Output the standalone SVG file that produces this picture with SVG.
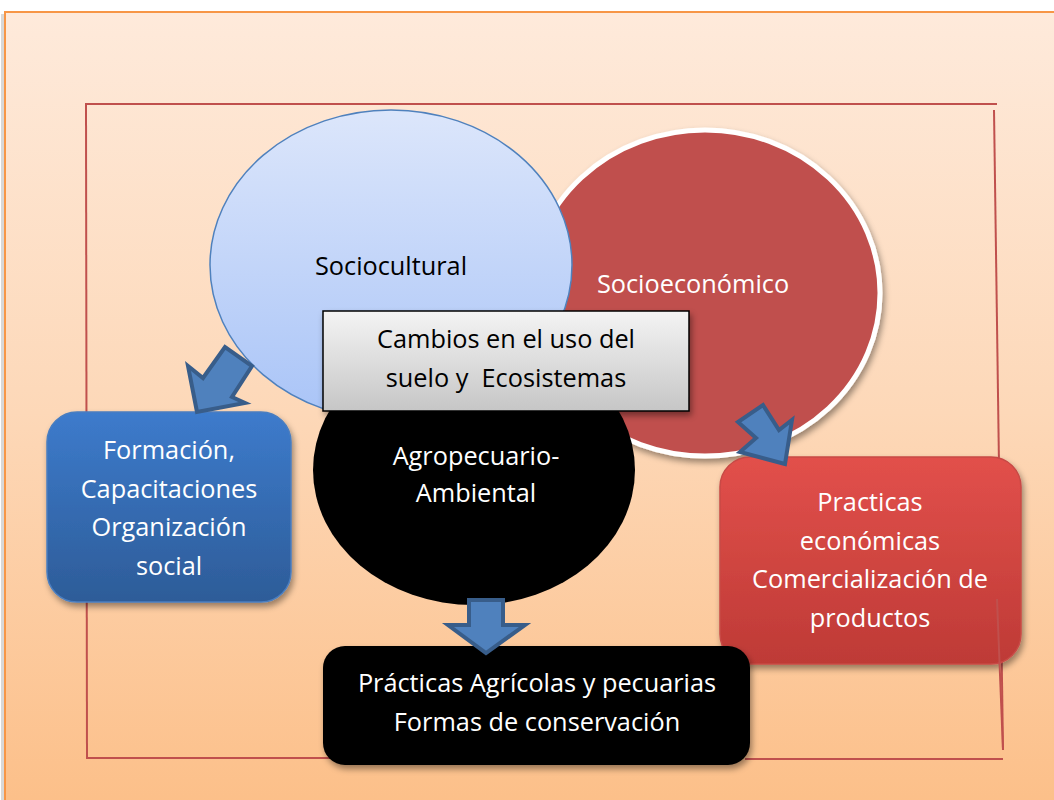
<svg xmlns="http://www.w3.org/2000/svg" width="1054" height="800" viewBox="0 0 1054 800">
<defs>
<linearGradient id="bg" x1="0" y1="0" x2="0" y2="1"><stop offset="0" stop-color="#FEEADB"/><stop offset="0.5" stop-color="#FDD8B8"/><stop offset="1" stop-color="#FCBF88"/></linearGradient>
<linearGradient id="gBlueEl" x1="0" y1="0" x2="0" y2="1"><stop offset="0" stop-color="#DCE6FB"/><stop offset="1" stop-color="#A9C4F7"/></linearGradient>
<linearGradient id="gGray" x1="0" y1="0" x2="0" y2="1"><stop offset="0" stop-color="#F4F4F4"/><stop offset="1" stop-color="#C6C6C6"/></linearGradient>
<linearGradient id="gBlue" x1="0" y1="0" x2="0" y2="1"><stop offset="0" stop-color="#3D7BCC"/><stop offset="1" stop-color="#2D5C98"/></linearGradient>
<linearGradient id="gRed" x1="0" y1="0" x2="0" y2="1"><stop offset="0" stop-color="#E2504B"/><stop offset="1" stop-color="#BE3A36"/></linearGradient>
<filter id="sh" x="-10%" y="-10%" width="130%" height="130%"><feDropShadow dx="2" dy="4" stdDeviation="3" flood-color="#000" flood-opacity="0.4"/></filter>
<style>
.t{font-family:"Open Sans","Liberation Sans",sans-serif;font-size:25.3px;text-anchor:middle;white-space:pre}
.w{fill:#FFFFFF}
.k{fill:#000000}
.arrow{fill:#4F81BD;stroke:#385D8A;stroke-width:4;stroke-linejoin:miter}
.frame{stroke:#C0504D;stroke-width:2;fill:none}
</style>
</defs>
<rect x="0" y="0" width="1054" height="800" fill="#FFFFFF"/>
<rect x="1" y="14" width="6" height="800" fill="#D8D8D8"/>
<rect id="background" x="5" y="12" width="1060" height="800" fill="url(#bg)" stroke="#F79646" stroke-width="2"/>
<g id="frame-back">
<line class="frame" x1="85" y1="104" x2="997" y2="104"/>
<line class="frame" x1="86" y1="104" x2="87" y2="758"/>
<line class="frame" x1="86" y1="758" x2="334" y2="758"/>
<line class="frame" x1="994" y1="110" x2="1003" y2="750"/>
<line class="frame" x1="745" y1="759" x2="1003" y2="759"/>
</g>
<g id="socioeconomico">
<ellipse cx="705" cy="293" rx="175" ry="163" fill="#C0504D" stroke="#FFFFFF" stroke-width="5" filter="url(#sh)"/>
<text class="t w" x="693" y="293">Socioeconómico</text>
</g>
<g id="sociocultural">
<ellipse cx="391" cy="265" rx="181" ry="155" fill="url(#gBlueEl)" stroke="#4F81BD" stroke-width="1.5"/>
<text class="t k" x="391" y="275">Sociocultural</text>
</g>
<g id="agropecuario">
<ellipse cx="474" cy="470" rx="161" ry="135" fill="#000000"/>
<text class="t w" x="476" y="465">Agropecuario-</text>
<text class="t w" x="476" y="502">Ambiental</text>
</g>
<g id="cambios">
<rect x="323" y="311" width="366" height="100" fill="url(#gGray)" stroke="#000" stroke-width="1.5" filter="url(#sh)"/>
<text class="t k" x="506" y="348">Cambios en el uso del</text>
<text class="t k" x="506" y="387" xml:space="preserve">suelo y  Ecosistemas</text>
</g>
<g id="formacion">
<rect x="47" y="412" width="244" height="190" rx="30" fill="url(#gBlue)" stroke="#4A7EC0" stroke-width="1.5" filter="url(#sh)"/>
<text class="t w" x="169" y="459">Formación,</text>
<text class="t w" x="169" y="498">Capacitaciones</text>
<text class="t w" x="169" y="536">Organización</text>
<text class="t w" x="169" y="575">social</text>
</g>
<g id="practicas-economicas">
<rect x="720" y="457" width="301" height="207" rx="30" fill="url(#gRed)" stroke="#C84A46" stroke-width="1.5" filter="url(#sh)"/>
<text class="t w" x="870" y="511">Practicas</text>
<text class="t w" x="870" y="550">económicas</text>
<text class="t w" x="870" y="588">Comercialización de</text>
<text class="t w" x="870" y="627">productos</text>
</g>
<g id="practicas-agricolas">
<rect x="323" y="646" width="427" height="119" rx="22" fill="#000000" filter="url(#sh)"/>
<text class="t w" x="537" y="692">Prácticas Agrícolas y pecuarias</text>
<text class="t w" x="537" y="731">Formas de conservación</text>
</g>
<g id="connectors">
<line class="frame" x1="997" y1="599" x2="1003" y2="750" stroke-width="1.5"/>
<polygon class="arrow" points="197,412 188,366 203,378 225,347 252,366 232,397 245,403"/>
<polygon class="arrow" points="785,464 740,452 756,438 738,422 763,405 779,430 792,420"/>
<polygon class="arrow" points="469,600 503,600 503,625 525,625 486,653 448,625 469,625"/>
</g>
</svg>
